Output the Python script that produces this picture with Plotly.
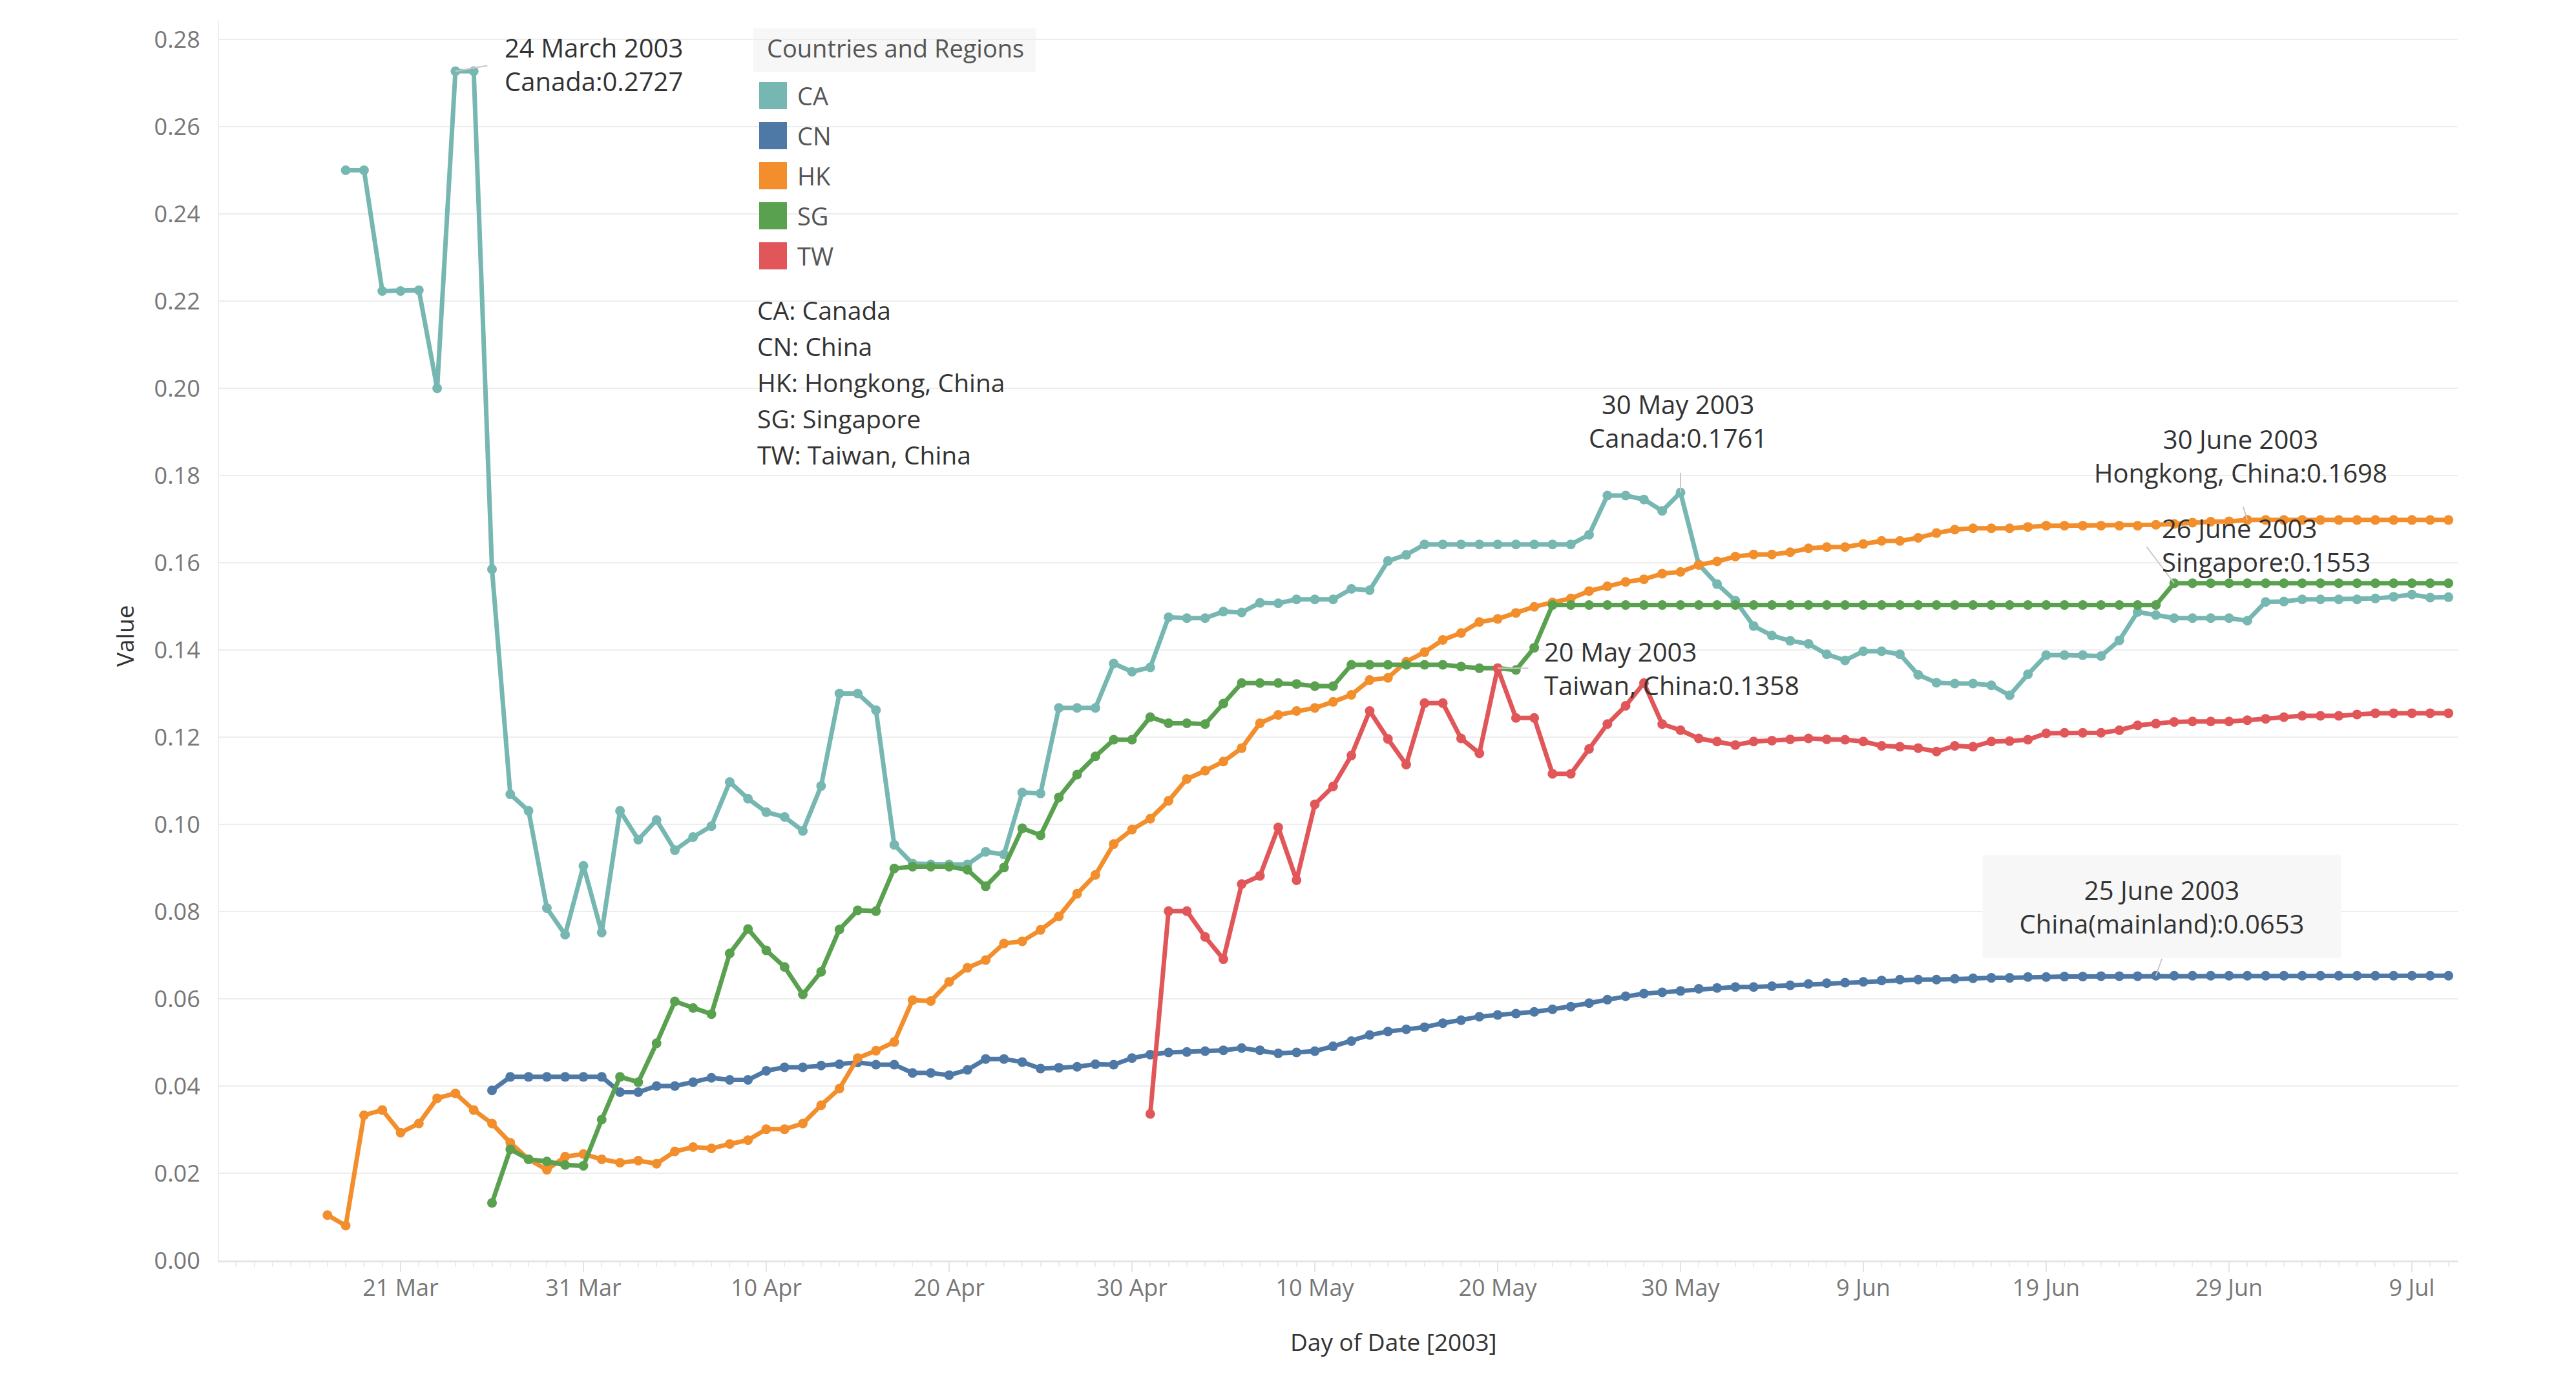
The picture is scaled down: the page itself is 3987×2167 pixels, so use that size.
import pandas as pd
import plotly.graph_objects as go

# -----data-----
codes = ['CA', 'CN', 'HK', 'SG', 'TW']
full_names = ['Canada', 'China', 'Hongkong, China', 'Singapore', 'Taiwan, China']
colors = ['#76b7b2', '#4e79a7', '#f28e2b', '#59a14f', '#e15759']
start_dates = ['2003-03-18', '2003-03-26', '2003-03-17', '2003-03-26', '2003-05-01']

ca_values = [
    0.2500, 0.2500, 0.2223, 0.2223, 0.2225, 0.2000, 0.2727, 0.2727, 0.1585, 0.1069,
    0.1031, 0.0808, 0.0747, 0.0905, 0.0752, 0.1031, 0.0965, 0.1010, 0.0941, 0.0971,
    0.0996, 0.1097, 0.1059, 0.1028, 0.1017, 0.0985, 0.1088, 0.1300, 0.1300, 0.1262,
    0.0953, 0.0910, 0.0908, 0.0908, 0.0908, 0.0937, 0.0931, 0.1073, 0.1071, 0.1267,
    0.1267, 0.1267, 0.1369, 0.1350, 0.1360, 0.1475, 0.1473, 0.1473, 0.1488, 0.1486,
    0.1508, 0.1507, 0.1516, 0.1516, 0.1516, 0.1540, 0.1537, 0.1604, 0.1618, 0.1642,
    0.1642, 0.1642, 0.1642, 0.1642, 0.1642, 0.1642, 0.1642, 0.1642, 0.1664, 0.1754,
    0.1754, 0.1745, 0.1719, 0.1761, 0.1596, 0.1551, 0.1513, 0.1455, 0.1433, 0.1421,
    0.1414, 0.1390, 0.1376, 0.1397, 0.1397, 0.1390, 0.1343, 0.1325, 0.1323, 0.1323,
    0.1319, 0.1296, 0.1344, 0.1388, 0.1388, 0.1388, 0.1386, 0.1422, 0.1487, 0.1480,
    0.1473, 0.1473, 0.1473, 0.1473, 0.1467, 0.1510, 0.1511, 0.1516, 0.1516, 0.1516,
    0.1516, 0.1518, 0.1522, 0.1527, 0.1520, 0.1521,
]
cn_values = [
    0.0390, 0.0421, 0.0421, 0.0421, 0.0421, 0.0421, 0.0421, 0.0386, 0.0386, 0.0400,
    0.0400, 0.0409, 0.0419, 0.0414, 0.0414, 0.0435, 0.0443, 0.0443, 0.0447, 0.0450,
    0.0454, 0.0449, 0.0449, 0.0430, 0.0430, 0.0425, 0.0437, 0.0462, 0.0462, 0.0455,
    0.0440, 0.0442, 0.0444, 0.0450, 0.0449, 0.0464, 0.0472, 0.0477, 0.0478, 0.0480,
    0.0482, 0.0487, 0.0482, 0.0475, 0.0477, 0.0480, 0.0491, 0.0503, 0.0517, 0.0525,
    0.0530, 0.0535, 0.0544, 0.0551, 0.0559, 0.0563, 0.0566, 0.0570, 0.0576, 0.0582,
    0.0590, 0.0598, 0.0606, 0.0612, 0.0615, 0.0618, 0.0623, 0.0625, 0.0627, 0.0627,
    0.0629, 0.0631, 0.0634, 0.0636, 0.0637, 0.0639, 0.0642, 0.0644, 0.0644, 0.0644,
    0.0646, 0.0647, 0.0648, 0.0648, 0.0650, 0.0650, 0.0651, 0.0651, 0.0652, 0.0652,
    0.0652, 0.0653, 0.0653, 0.0653, 0.0653, 0.0653, 0.0653, 0.0653, 0.0653, 0.0653,
    0.0653, 0.0653, 0.0653, 0.0653, 0.0653, 0.0653, 0.0653, 0.0653,
]
hk_values = [
    0.0104, 0.0080, 0.0333, 0.0345, 0.0293, 0.0314, 0.0372, 0.0383, 0.0345, 0.0314,
    0.0270, 0.0232, 0.0208, 0.0238, 0.0244, 0.0232, 0.0224, 0.0229, 0.0222, 0.0250,
    0.0260, 0.0257, 0.0267, 0.0276, 0.0301, 0.0301, 0.0314, 0.0356, 0.0394, 0.0464,
    0.0481, 0.0501, 0.0597, 0.0595, 0.0639, 0.0671, 0.0689, 0.0727, 0.0732, 0.0758,
    0.0789, 0.0841, 0.0884, 0.0955, 0.0988, 0.1013, 0.1054, 0.1104, 0.1123, 0.1144,
    0.1175, 0.1232, 0.1251, 0.1260, 0.1267, 0.1281, 0.1297, 0.1331, 0.1336, 0.1373,
    0.1395, 0.1423, 0.1439, 0.1464, 0.1471, 0.1485, 0.1499, 0.1509, 0.1518, 0.1535,
    0.1546, 0.1556, 0.1562, 0.1575, 0.1579, 0.1595, 0.1603, 0.1614, 0.1619, 0.1619,
    0.1624, 0.1633, 0.1636, 0.1636, 0.1643, 0.1650, 0.1650, 0.1657, 0.1668, 0.1676,
    0.1679, 0.1679, 0.1679, 0.1682, 0.1685, 0.1685, 0.1685, 0.1685, 0.1685, 0.1685,
    0.1687, 0.1689, 0.1692, 0.1694, 0.1695, 0.1698, 0.1698, 0.1698, 0.1698, 0.1698,
    0.1698, 0.1698, 0.1698, 0.1698, 0.1698, 0.1698, 0.1698,
]
sg_values = [
    0.0132, 0.0255, 0.0232, 0.0227, 0.0219, 0.0217, 0.0323, 0.0421, 0.0409, 0.0498,
    0.0594, 0.0579, 0.0565, 0.0704, 0.0760, 0.0711, 0.0673, 0.0610, 0.0662, 0.0759,
    0.0803, 0.0801, 0.0899, 0.0903, 0.0903, 0.0903, 0.0896, 0.0858, 0.0901, 0.0991,
    0.0975, 0.1062, 0.1114, 0.1156, 0.1194, 0.1194, 0.1246, 0.1232, 0.1232, 0.1230,
    0.1277, 0.1324, 0.1324, 0.1324, 0.1322, 0.1317, 0.1317, 0.1366, 0.1366, 0.1366,
    0.1366, 0.1366, 0.1366, 0.1362, 0.1358, 0.1358, 0.1354, 0.1405, 0.1503, 0.1503,
    0.1503, 0.1503, 0.1503, 0.1503, 0.1503, 0.1503, 0.1503, 0.1503, 0.1503, 0.1503,
    0.1503, 0.1503, 0.1503, 0.1503, 0.1503, 0.1503, 0.1503, 0.1503, 0.1503, 0.1503,
    0.1503, 0.1503, 0.1503, 0.1503, 0.1503, 0.1503, 0.1503, 0.1503, 0.1503, 0.1503,
    0.1503, 0.1503, 0.1553, 0.1553, 0.1553, 0.1553, 0.1553, 0.1553, 0.1553, 0.1553,
    0.1553, 0.1553, 0.1553, 0.1553, 0.1553, 0.1553, 0.1553, 0.1553,
]
tw_values = [
    0.0336, 0.0801, 0.0801, 0.0742, 0.0691, 0.0863, 0.0882, 0.0993, 0.0872, 0.1046,
    0.1087, 0.1158, 0.1260, 0.1196, 0.1137, 0.1278, 0.1278, 0.1197, 0.1163, 0.1358,
    0.1244, 0.1244, 0.1116, 0.1116, 0.1173, 0.1230, 0.1272, 0.1324, 0.1230, 0.1216,
    0.1197, 0.1190, 0.1182, 0.1190, 0.1192, 0.1195, 0.1197, 0.1195, 0.1194, 0.1190,
    0.1180, 0.1178, 0.1175, 0.1167, 0.1180, 0.1178, 0.1190, 0.1191, 0.1194, 0.1209,
    0.1210, 0.1210, 0.1210, 0.1216, 0.1227, 0.1231, 0.1235, 0.1236, 0.1236, 0.1236,
    0.1239, 0.1242, 0.1246, 0.1249, 0.1249, 0.1249, 0.1252, 0.1255, 0.1255, 0.1255,
    0.1255, 0.1255,
]

y_ticks = [0.00, 0.02, 0.04, 0.06, 0.08, 0.10, 0.12, 0.14, 0.16, 0.18, 0.20, 0.22, 0.24, 0.26, 0.28]

# callouts on single days
callout_codes = ['CA', 'CA', 'TW', 'HK', 'SG', 'CN']
callout_dates = ['2003-03-24', '2003-05-30', '2003-05-20', '2003-06-30', '2003-06-26', '2003-06-25']
callout_names = ['Canada', 'Canada', 'Taiwan, China', 'Hongkong, China', 'Singapore', 'China(mainland)']
# --------------------------------

W, H = 3987, 2167
OFF = 8  # page body margin
# plot area on screen
X0, X1, Y0, Y1 = 339, 3804, 32, 1951
pw, ph = X1 - X0, Y1 - Y0


def px(x):
    return (x - X0) / pw


def py(y):
    return (Y1 - y) / ph


series = dict(zip(codes, [ca_values, cn_values, hk_values, sg_values, tw_values]))
dates = {c: pd.date_range(s, periods=len(series[c]), freq='D') for c, s in zip(codes, start_dates)}

fig = go.Figure()
for c, col in zip(codes, colors):
    fig.add_trace(go.Scatter(
        x=dates[c], y=series[c], mode='lines+markers', name=c,
        line=dict(color=col, width=7), marker=dict(color=col, size=15),
        showlegend=False))

# callout layout: text anchor, text shift (px), pointer tail (px)
callout_style = [
    dict(xanchor='left', xshift=74, yshift=11, ax=51, ay=-9, bg=None),
    dict(xanchor='center', xshift=-4, yshift=111, ax=0, ay=-32, bg=None),
    dict(xanchor='left', xshift=70, yshift=0, ax=49, ay=0, bg=None),
    dict(xanchor='center', xshift=-10, yshift=99, ax=-7, ay=-22, bg=None),
    dict(xanchor='left', xshift=-21, yshift=59, ax=-44, ay=-58, bg=None),
    dict(xanchor='center', xshift=9, yshift=107, ax=10, ay=-28, bg='#f7f7f7'),
]
annots = []
for c, d, name, st in zip(callout_codes, callout_dates, callout_names, callout_style):
    ts = pd.Timestamp(d)
    v = series[c][list(dates[c]).index(ts)]
    label = f"{ts.day} {ts.strftime('%B %Y')}<br>{name}:{v:.4f}"
    annots.append(dict(x=ts, y=v, xref='x', yref='y', text='', showarrow=True,
                       ax=st['ax'], ay=st['ay'], axref='pixel', ayref='pixel',
                       arrowhead=0, arrowwidth=2, arrowcolor='#c8c8c8'))
    box = dict(x=ts, y=v, xref='x', yref='y', text=label, showarrow=False,
               xanchor=st['xanchor'], yanchor='middle', align=st['xanchor'] if st['xanchor'] == 'left' else 'center',
               xshift=st['xshift'], yshift=st['yshift'],
               font=dict(family='Open Sans', size=40, color='#333333'))
    if st['bg']:
        box.update(bgcolor=st['bg'], width=540, height=144, borderpad=7)
    annots.append(box)

# legend block (drawn by hand, Tableau style)
shapes = [
    dict(type='rect', xref='paper', yref='paper', x0=px(1166), x1=px(1603), y0=py(600), y1=py(43),
         fillcolor='white', line=dict(width=0), layer='between'),
    dict(type='rect', xref='paper', yref='paper', x0=px(1166), x1=px(1603), y0=py(112), y1=py(44),
         fillcolor='#f7f7f7', line=dict(width=0), layer='between'),
]
annots.append(dict(x=px(1185), y=py(74), xref='paper', yref='paper', text='Countries and Regions',
                   showarrow=False, xanchor='left', yanchor='middle',
                   font=dict(family='Open Sans', size=38, color='#555555')))
for i, (c, col) in enumerate(zip(codes, colors)):
    yc = 148 + i * 62
    shapes.append(dict(type='rect', xref='paper', yref='paper', x0=px(1175), x1=px(1218),
                       y0=py(yc + 21), y1=py(yc - 21), fillcolor=col, line=dict(width=0)))
    annots.append(dict(x=px(1232), y=py(yc), xref='paper', yref='paper', text=c, showarrow=False,
                       xanchor='left', yanchor='middle',
                       font=dict(family='Open Sans', size=38, color='#555555')))
for i, (c, n) in enumerate(zip(codes, full_names)):
    annots.append(dict(x=px(1170), y=py(479 + i * 56), xref='paper', yref='paper', text=f'{c}: {n}',
                       showarrow=False, xanchor='left', yanchor='middle',
                       font=dict(family='Open Sans', size=39, color='#333333')))

# axis titles
annots.append(dict(x=px(2157), y=py(2076), xref='paper', yref='paper', text='Day of Date [2003]',
                   showarrow=False, xanchor='center', yanchor='middle',
                   font=dict(family='Open Sans', size=37, color='#333333')))
annots.append(dict(x=px(192), y=py(985), xref='paper', yref='paper', text='Value', textangle=-90,
                   showarrow=False, xanchor='center', yanchor='middle',
                   font=dict(family='Open Sans', size=37, color='#333333')))

fig.update_layout(
    width=W, height=H,
    margin=dict(l=X0 - OFF, r=W - X1 + OFF, t=Y0 - OFF, b=H - Y1 + OFF),
    paper_bgcolor='white', plot_bgcolor='white',
    font=dict(family='Open Sans', color='#666666'),
    shapes=shapes, annotations=annots,
    xaxis=dict(
        type='date', range=['2003-03-11 01:42', '2003-07-11 12:13'],
        tick0='2003-03-21', dtick=864000000, tickformat='%-d %b',
        showgrid=False, zeroline=False,
        showline=True, linecolor='#e4e4e4', linewidth=3,
        ticks='outside', ticklen=15, tickwidth=2, tickcolor='#e4e4e4',
        ticklabelstandoff=-6,
        minor=dict(ticks='outside', ticklen=7, tickwidth=2, tickcolor='#ececec',
                   dtick=86400000, tick0='2003-03-21', showgrid=False),
        tickfont=dict(family='Open Sans', size=36, color='#777777'),
    ),
    yaxis=dict(
        range=[0, 0.2843], tickvals=y_ticks, tickformat='.2f',
        showgrid=True, gridcolor='#ededed', gridwidth=2, zeroline=False,
        showline=True, linecolor='#ededed', linewidth=2,
        ticks='', ticklabelstandoff=20,
        tickfont=dict(family='Open Sans', size=36, color='#777777'),
    ),
)

fig.write_html("out.html")
